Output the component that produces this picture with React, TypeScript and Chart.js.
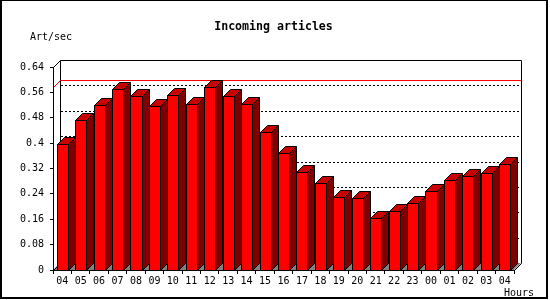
import React, { useEffect, useRef } from "react";
import { Chart, registerables } from "chart.js";

Chart.register(...registerables);

const hours = ["04","05","06","07","08","09","10","11","12","13","14","15","16","17","18","19","20","21","22","23","00","01","02","03","04"];
const artPerSec = [0.397,0.473,0.52,0.57,0.548,0.517,0.551,0.522,0.576,0.548,0.522,0.434,0.368,0.308,0.273,0.229,0.226,0.163,0.185,0.21,0.248,0.283,0.295,0.305,0.333];
const yTickValues = [0,0.08,0.16,0.24,0.32,0.4,0.48,0.56,0.64];
const yTickLabels = ["0","0.08","0.16","0.24","0.32","0.4","0.48","0.56","0.64"];
const titleText = "Incoming articles";
const yUnitText = "Art/sec";
const xUnitText = "Hours";

const D = 7;
const MONO = "'DejaVu Sans Mono', monospace";

const bar3d = {
  id: "bar3d",
  beforeDraw(chart: any) {
    const ctx = chart.ctx;
    const a = chart.chartArea;
    const ys = chart.scales.y;
    ctx.save();
    ctx.fillStyle = "#fff";
    ctx.fillRect(0, 0, chart.width, chart.height);
    // outer frame
    ctx.fillStyle = "#000";
    ctx.fillRect(0, 0, 548, 1);
    ctx.fillRect(0, 0, 2, 299);
    ctx.fillRect(546, 0, 2, 299);
    ctx.fillRect(0, 297, 548, 2);

    const L = Math.round(a.left), R = Math.round(a.right), T = Math.round(a.top), B = Math.round(a.bottom);
    // floor
    ctx.fillStyle = "#808080";
    ctx.beginPath();
    ctx.moveTo(L, B);
    ctx.lineTo(R, B);
    ctx.lineTo(R + D, B - D);
    ctx.lineTo(L + D, B - D);
    ctx.closePath();
    ctx.fill();
    ctx.strokeStyle = "#000";
    ctx.lineWidth = 1;
    ctx.beginPath();
    ctx.moveTo(L + 0.5, B + 0.5);
    ctx.lineTo(L + D + 0.5, B - D + 0.5);
    ctx.moveTo(R + 0.5, B + 0.5);
    ctx.lineTo(R + D + 0.5, B - D + 0.5);
    ctx.stroke();

    // gridlines on back wall
    ctx.setLineDash([2, 2]);
    ctx.beginPath();
    yTickValues.forEach((v) => {
      if (v <= 0 || v >= ys.max) return;
      const yb = Math.round(ys.getPixelForValue(v)) - D + 0.5;
      ctx.moveTo(L + D + 1, yb);
      ctx.lineTo(R + D, yb);
    });
    ctx.stroke();
    ctx.setLineDash([]);

    // back wall frame + left wall top edge
    ctx.beginPath();
    ctx.moveTo(L + D + 0.5, B - D + 0.5);
    ctx.lineTo(L + D + 0.5, T - D + 0.5);
    ctx.lineTo(R + D + 0.5, T - D + 0.5);
    ctx.lineTo(R + D + 0.5, B - D + 0.5);
    ctx.moveTo(L + 0.5, T + 0.5);
    ctx.lineTo(L + D + 0.5, T - D + 0.5);
    ctx.stroke();

    // max line
    const mx = Math.max(...artPerSec);
    const yf = Math.round(ys.getPixelForValue(mx));
    ctx.strokeStyle = "#ff0000";
    ctx.beginPath();
    ctx.moveTo(L + 0.5, yf + 0.5);
    ctx.lineTo(L + D + 0.5, yf - D + 0.5);
    ctx.lineTo(R + D + 0.5, yf - D + 0.5);
    ctx.stroke();

    // texts
    ctx.fillStyle = "#000";
    ctx.textBaseline = "middle";
    ctx.textAlign = "center";
    ctx.font = "bold 11.6px " + MONO;
    ctx.fillText(titleText, 273.5, 27);
    ctx.textAlign = "left";
    ctx.font = "10px " + MONO;
    ctx.fillText(yUnitText, 30, 37);
    ctx.fillText(xUnitText, 504, 293);
    ctx.restore();
  },
  afterDatasetsDraw(chart: any) {
    const ctx = chart.ctx;
    const meta = chart.getDatasetMeta(0);
    ctx.save();
    ctx.lineWidth = 1;
    ctx.strokeStyle = "#000";
    meta.data.forEach((el: any) => {
      const p = el.getProps(["x", "y", "base", "width"], true);
      const l = Math.round(p.x - p.width / 2);
      const r = Math.round(p.x + p.width / 2);
      const t = Math.round(p.y);
      const b = Math.round(p.base);
      // side
      ctx.fillStyle = "#800000";
      ctx.beginPath();
      ctx.moveTo(r + 0.5, t + 0.5);
      ctx.lineTo(r + D + 0.5, t - D + 0.5);
      ctx.lineTo(r + D + 0.5, b - D + 0.5);
      ctx.lineTo(r + 0.5, b + 0.5);
      ctx.closePath();
      ctx.fill();
      ctx.stroke();
      // top
      ctx.fillStyle = "#c80000";
      ctx.beginPath();
      ctx.moveTo(l + 0.5, t + 0.5);
      ctx.lineTo(l + D + 0.5, t - D + 0.5);
      ctx.lineTo(r + D + 0.5, t - D + 0.5);
      ctx.lineTo(r + 0.5, t + 0.5);
      ctx.closePath();
      ctx.fill();
      ctx.stroke();
      // front
      ctx.fillStyle = "#ff0000";
      ctx.fillRect(l, t, r - l, b - t);
      ctx.strokeRect(l + 0.5, t + 0.5, r - l, b - t);
    });
    ctx.restore();
  },
};

export default function App() {
  const ref = useRef<HTMLCanvasElement>(null);
  useEffect(() => {
    document.body.style.margin = "0";
    const chart = new Chart(ref.current as HTMLCanvasElement, {
      type: "bar",
      data: {
        labels: hours,
        datasets: [
          {
            data: artPerSec,
            backgroundColor: "rgba(0,0,0,0)",
            borderWidth: 0,
            barPercentage: 0.6,
            categoryPercentage: 1,
          },
        ],
      },
      options: {
        responsive: false,
        animation: false,
        devicePixelRatio: 1,
        layout: { padding: { left: 0, right: 36, top: 67, bottom: 0 } },
        plugins: { legend: { display: false }, tooltip: { enabled: false }, title: { display: false } },
        scales: {
          x: {
            type: "category",
            offset: true,
            grid: { display: true, drawOnChartArea: false, drawTicks: true, tickLength: 4, color: "#000", offset: true },
            border: { display: true, color: "#000", width: 1 },
            ticks: { color: "#000", font: { family: MONO, size: 10 }, padding: 1, maxRotation: 0, autoSkip: false },
            afterFit: (s: any) => { s.height = 30; },
          },
          y: {
            min: 0,
            max: 0.64,
            afterBuildTicks: (s: any) => { s.ticks = yTickValues.map((v) => ({ value: v })); },
            grid: { display: true, drawOnChartArea: false, drawTicks: true, tickLength: 3, color: "#000" },
            border: { display: true, color: "#000", width: 1 },
            ticks: {
              color: "#000",
              font: { family: MONO, size: 10 },
              padding: 6,
              callback: (_v: any, i: number) => yTickLabels[i],
            },
            afterFit: (s: any) => { s.width = 53; },
          },
        },
      },
      plugins: [bar3d],
    });
    return () => chart.destroy();
  }, []);
  return <canvas ref={ref} width={550} height={300} style={{ display: "block" }} />;
}
